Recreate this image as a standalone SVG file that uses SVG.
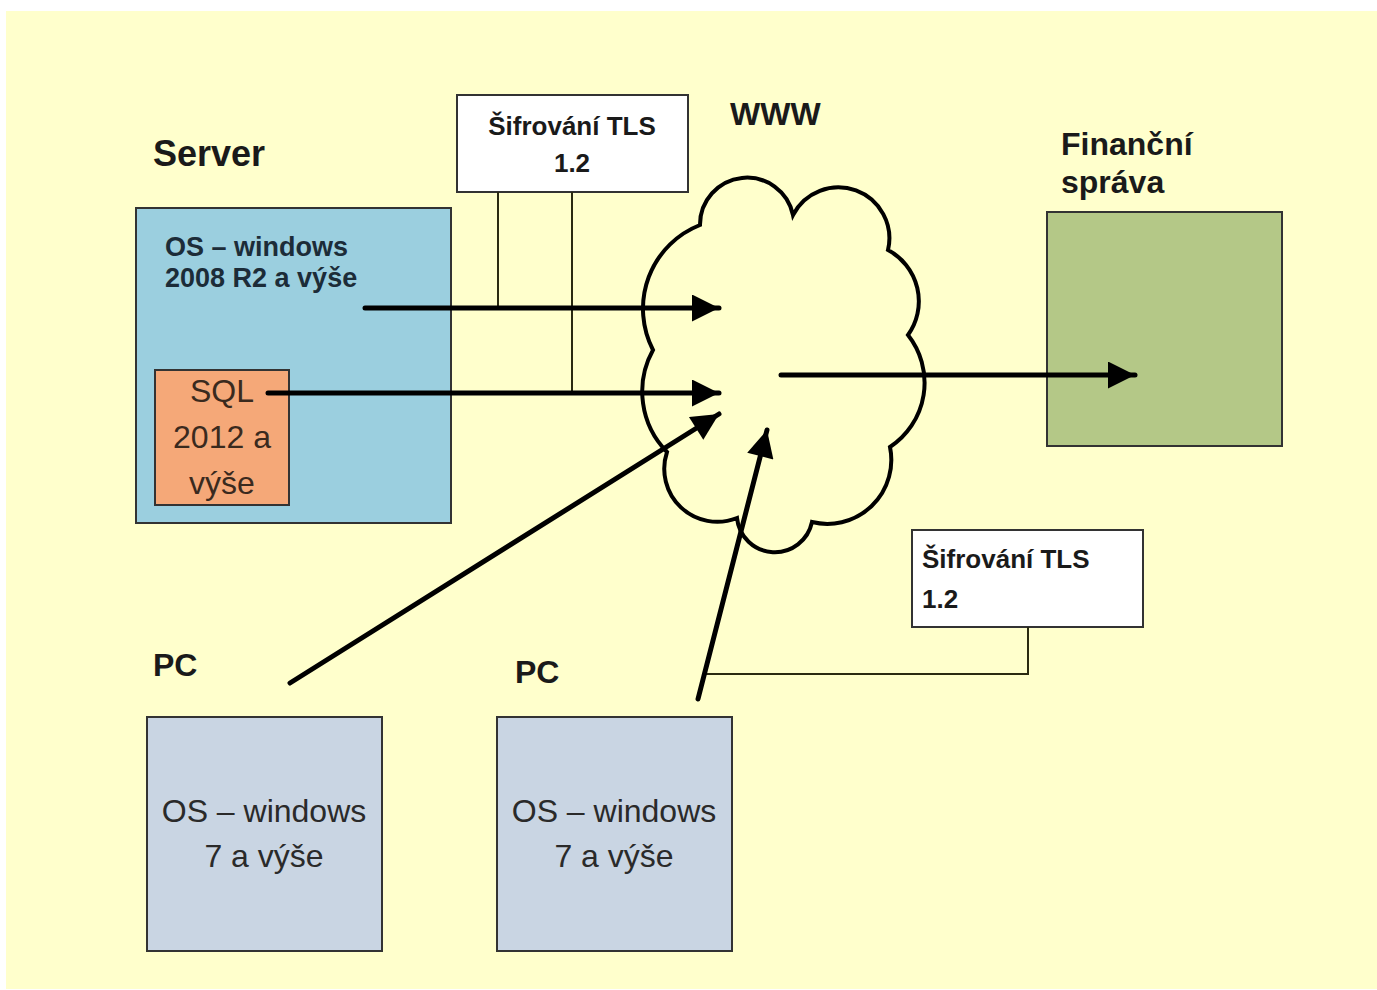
<svg xmlns="http://www.w3.org/2000/svg" width="1377" height="990" viewBox="0 0 1377 990">
<style>
.bold{font-family:"Liberation Sans",Arial,sans-serif;font-weight:bold;fill:#1a1a1a}
.reg{font-family:"Liberation Sans",Arial,sans-serif;fill:#2a2a2a}
.box{stroke:#333;stroke-width:2}
.thin{fill:none;stroke:#2a2a10;stroke-width:2}
.arr{fill:none;stroke:#000;stroke-width:5;stroke-linecap:round}
</style>
<defs>
<marker id="ah" viewBox="0 0 10 10" refX="10" refY="5" markerWidth="7" markerHeight="5.4" markerUnits="strokeWidth" orient="auto">
<path d="M0,0 L10,5 L0,10 Z" fill="#000"/>
</marker>
</defs>
<rect x="0" y="0" width="1377" height="990" fill="#ffffff"/>
<rect x="6" y="11" width="1371" height="978" fill="#ffffcc"/>

<g id="cloud">
<path d="M700,225 A47,47 0 0 1 793,215 A51,51 0 0 1 888,250 A58,58 0 0 1 908,335 A77,77 0 0 1 890,447 A64,64 0 0 1 812,522 A38,38 0 0 1 737,518 A53,53 0 0 1 667,452 A86,86 0 0 1 653,350 A90,90 0 0 1 700,225 Z" fill="#ffffcc" stroke="#000" stroke-width="4"/>
</g>

<g id="server">
<text class="bold" x="153" y="166" font-size="36">Server</text>
<rect class="box" x="136" y="208" width="315" height="315" fill="#9bcfdf"/>
<text class="bold" x="165" y="256" font-size="27" style="fill:#1c2c38">OS – windows</text>
<text class="bold" x="165" y="287" font-size="27" style="fill:#1c2c38">2008 R2 a výše</text>
</g>

<g id="sql">
<rect class="box" x="155" y="370" width="134" height="135" fill="#f5a878"/>
<text class="reg" x="222" y="402" font-size="32" text-anchor="middle" style="fill:#3a2a1e">SQL</text>
<text class="reg" x="222" y="448" font-size="32" text-anchor="middle" style="fill:#3a2a1e">2012 a</text>
<text class="reg" x="222" y="494" font-size="32" text-anchor="middle" style="fill:#3a2a1e">výše</text>
</g>

<g id="tls1">
<rect class="box" x="457" y="95" width="231" height="97" fill="#ffffff"/>
<text class="bold" x="572" y="135" font-size="26" text-anchor="middle">Šifrování TLS</text>
<text class="bold" x="572" y="172" font-size="26" text-anchor="middle">1.2</text>
</g>

<g id="www">
<text class="bold" x="730" y="125" font-size="32">WWW</text>
</g>

<g id="financni">
<text class="bold" x="1061" y="155" font-size="32">Finanční</text>
<text class="bold" x="1061" y="193" font-size="32">správa</text>
<rect class="box" x="1047" y="212" width="235" height="234" fill="#b4c887"/>
</g>

<g id="tls2">
<rect class="box" x="912" y="530" width="231" height="97" fill="#ffffff"/>
<text class="bold" x="922" y="568" font-size="26">Šifrování TLS</text>
<text class="bold" x="922" y="608" font-size="26">1.2</text>
</g>

<g id="pc1">
<text class="bold" x="153" y="676" font-size="32">PC</text>
<rect class="box" x="147" y="717" width="235" height="234" fill="#c9d5e3"/>
<text class="reg" x="264" y="822" font-size="32" text-anchor="middle">OS – windows</text>
<text class="reg" x="264" y="867" font-size="32" text-anchor="middle">7 a výše</text>
</g>

<g id="pc2">
<text class="bold" x="515" y="683" font-size="32">PC</text>
<rect class="box" x="497" y="717" width="235" height="234" fill="#c9d5e3"/>
<text class="reg" x="614" y="822" font-size="32" text-anchor="middle">OS – windows</text>
<text class="reg" x="614" y="867" font-size="32" text-anchor="middle">7 a výše</text>
</g>

<g id="connectors">
<line class="thin" x1="498" y1="192" x2="498" y2="308"/>
<line class="thin" x1="572" y1="192" x2="572" y2="393"/>
<polyline class="thin" points="1028,627 1028,674 706,674"/>
<line class="arr" x1="365" y1="308" x2="719" y2="308" marker-end="url(#ah)"/>
<line class="arr" x1="268" y1="393" x2="719" y2="393" marker-end="url(#ah)"/>
<line class="arr" x1="290" y1="683" x2="719" y2="414" marker-end="url(#ah)"/>
<line class="arr" x1="698" y1="699" x2="767" y2="430" marker-end="url(#ah)"/>
<line class="arr" x1="781" y1="375" x2="1135" y2="375" marker-end="url(#ah)"/>
</g>
</svg>
